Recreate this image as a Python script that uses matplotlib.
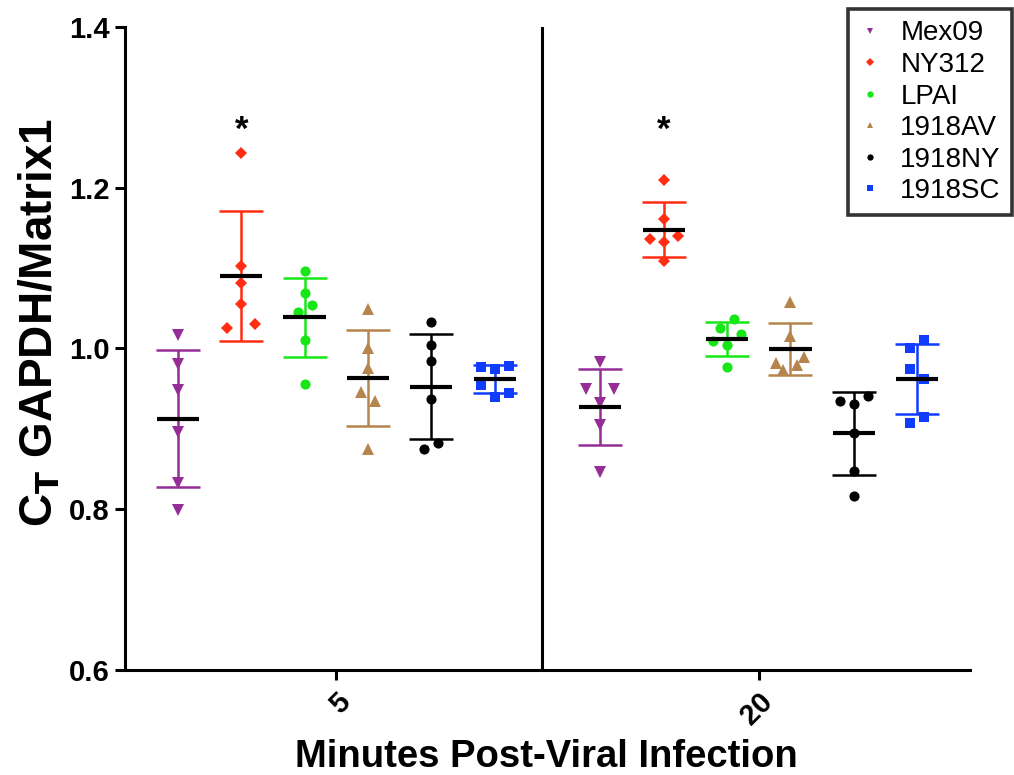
import numpy as np
import matplotlib
matplotlib.use("Agg")
import matplotlib.pyplot as plt
from matplotlib.lines import Line2D

plt.rcParams['font.family'] = ['Liberation Sans', 'DejaVu Sans']

# ---- data ----
timepoints = ["5", "20"]
series_names = ["Mex09", "NY312", "LPAI", "1918AV", "1918NY", "1918SC"]

mex09_5 = [1.017, 0.981, 0.948, 0.896, 0.833, 0.799]
ny312_5 = [1.243, 1.103, 1.082, 1.055, 1.026, 1.031]
lpai_5 = [1.097, 1.069, 1.054, 1.046, 1.011, 0.956]
av1918_5 = [1.049, 1.000, 0.976, 0.946, 0.935, 0.875]
ny1918_5 = [1.033, 1.004, 0.984, 0.937, 0.883, 0.875]
sc1918_5 = [0.977, 0.975, 0.978, 0.955, 0.940, 0.944]

mex09_20 = [0.983, 0.949, 0.949, 0.932, 0.905, 0.846]
ny312_20 = [1.210, 1.161, 1.136, 1.140, 1.132, 1.109]
lpai_20 = [1.037, 1.026, 1.018, 1.009, 1.004, 0.977]
av1918_20 = [1.058, 1.015, 0.989, 0.982, 0.979, 0.973]
ny1918_20 = [0.935, 0.941, 0.931, 0.895, 0.848, 0.817]
sc1918_20 = [1.011, 1.001, 0.975, 0.962, 0.915, 0.907]

# horizontal scatter offsets of points (in units of one marker spread)
jit_mex09_5 = [0, 0, 0, 0, 0, 0]
jit_ny312_5 = [0, 0, 0, 0, -1, 1]
jit_lpai_5 = [0, 0, 0.5, -0.5, 0, 0]
jit_av1918_5 = [0, 0, 0, -0.5, 0.5, 0]
jit_ny1918_5 = [0, 0, 0, 0, 0.5, -0.5]
jit_sc1918_5 = [-1, 0, 1, -1, 0, 1]

jit_mex09_20 = [0, -1, 1, 0, 0, 0]
jit_ny312_20 = [0, 0, -1, 1, 0, 0]
jit_lpai_20 = [0.5, -0.5, 1, -1, 0, 0]
jit_av1918_20 = [0, 0, 1, -1, 0.5, -0.5]
jit_ny1918_20 = [-1, 1, 0, 0, 0, 0]
jit_sc1918_20 = [0.5, -0.5, -0.5, 0.5, 0.5, -0.5]

values = {
    "5": [mex09_5, ny312_5, lpai_5, av1918_5, ny1918_5, sc1918_5],
    "20": [mex09_20, ny312_20, lpai_20, av1918_20, ny1918_20, sc1918_20],
}
jitters = {
    "5": [jit_mex09_5, jit_ny312_5, jit_lpai_5, jit_av1918_5, jit_ny1918_5, jit_sc1918_5],
    "20": [jit_mex09_20, jit_ny312_20, jit_lpai_20, jit_av1918_20, jit_ny1918_20, jit_sc1918_20],
}
significant = ["NY312"]

colors = ["#942D96", "#FF2D12", "#17E617", "#B5854D", "#000000", "#0F3CFF"]
markers = ["v", "D", "o", "^", "o", "s"]
msizes = [8, 6.3, 7.3, 8, 7.3, 7]

# ---- figure ----
fig = plt.figure(figsize=(10.14, 7.75), dpi=100)
ax = fig.add_axes([0.1233, 0.1355, 0.8333, 0.8297])

group_centers = [1, 3]
spacing = 0.3
jit_unit = 0.066
n = len(series_names)

for gi, tp in enumerate(timepoints):
    for si, name in enumerate(series_names):
        vals = np.array(values[tp][si])
        xc = group_centers[gi] + (si - (n - 1) / 2) * spacing
        xs = xc + np.array(jitters[tp][si]) * jit_unit
        m = vals.mean()
        sd = vals.std(ddof=1)
        ax.errorbar([xc], [m], yerr=[sd], fmt='none', ecolor=colors[si],
                    elinewidth=1.8, capsize=16, capthick=1.8, zorder=2)
        ax.plot(xs, vals, linestyle='none', marker=markers[si], color=colors[si],
                markersize=msizes[si], markeredgewidth=0, zorder=3,
                label=name if gi == 0 else None)
        ax.plot([xc - 0.1, xc + 0.1], [m, m], color='black', lw=3,
                solid_capstyle='butt', zorder=4)
        if name in significant:
            ax.text(xc, 1.259, "*", ha='center', va='baseline', fontsize=25,
                    fontweight='bold', color='black')

ax.axvline(1.975, color='black', lw=2.2, zorder=1)

ax.set_xlim(0, 4)
ax.set_ylim(0.6, 1.4)
ax.set_yticks([0.6, 0.8, 1.0, 1.2, 1.4])
ax.set_yticklabels(["0.6", "0.8", "1.0", "1.2", "1.4"], fontsize=21, fontweight='bold')
ax.set_xticks(group_centers)
ax.set_xticklabels(timepoints, fontsize=21, fontweight='bold', rotation=45,
                   ha='right', rotation_mode='anchor')
ax.tick_params(axis='both', width=2.2, length=7, direction='out')
ax.tick_params(axis='x', pad=6)
ax.tick_params(axis='y', pad=4)
for side in ['top', 'right']:
    ax.spines[side].set_visible(False)
for side in ['left', 'bottom']:
    ax.spines[side].set_linewidth(2.2)

fig.text(0.539, 1 - 767 / 775, "Minutes Post-Viral Infection", fontsize=27.5,
         fontweight='bold', ha='center', va='baseline')
fig.text(40 / 1014, 1 - 322 / 775, r"C$_\mathbf{T}$ GAPDH/Matrix1", fontsize=33,
         fontweight='bold', ha='center', va='center', rotation=90)

handles = [Line2D([], [], linestyle='none', marker=markers[i], color=colors[i],
                  markersize=msizes[i] * 0.62, markeredgewidth=0) for i in range(n)]
leg = fig.legend(handles, series_names, loc='upper right',
                 bbox_to_anchor=(0.998, 0.988), fontsize=20, frameon=True,
                 fancybox=False, edgecolor='black', handlelength=0.8,
                 handletextpad=0.7, borderpad=0.4, labelspacing=0.2,
                 borderaxespad=0)
leg.get_frame().set_linewidth(2.6)

fig.savefig("out.png", dpi=100)
